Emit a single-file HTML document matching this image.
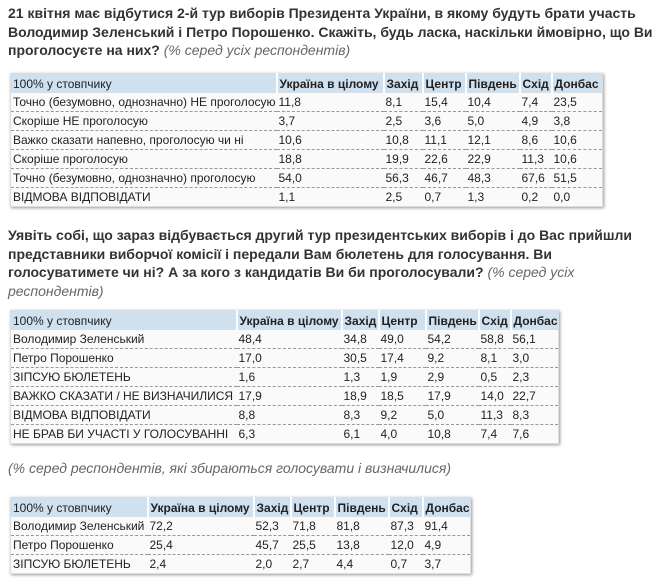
<!DOCTYPE html>
<html><head><meta charset="utf-8"><style>
body{margin:0;width:665px;height:586px;background:#fff;position:relative;font-family:"Liberation Sans",Arial,sans-serif;color:#222;overflow:hidden}
.q{position:absolute;left:8px;font-size:14px;font-weight:bold;color:#333;line-height:18.5px;margin:0}
.q i,.it{font-weight:normal;font-style:italic;color:#666}
.it{position:absolute;left:8px;font-size:14px}
table{position:absolute;left:10px;border-collapse:collapse;table-layout:fixed;font-size:12px;background:#fafafa;box-shadow:1px 1px 3px #999;border:1px solid #ddd}
td{padding:0 0 0 2px;height:18px;white-space:nowrap;overflow:hidden;border-bottom:1px dashed #999;line-height:18px}
tr:last-child td{border-bottom:none}
tr.h td{background:#cfe0ef;height:19px;border-left:2px dotted #fff;border-bottom:none}
tr.h td:first-child{border-left:none}
tr.h td+td{font-weight:bold}
</style></head><body>
<p class="q" style="top:4px">21 квітня має відбутися 2-й тур виборів Президента України, в якому будуть брати участь Володимир Зеленський і Петро Порошенко. Скажіть, будь ласка, наскільки ймовірно, що Ви проголосуєте на них? <i>(% серед усіх респондентів)</i></p>

<table style="top:73px;width:592px">
<colgroup><col style="width:266px"><col style="width:107px"><col style="width:39px"><col style="width:43px"><col style="width:54px"><col style="width:32px"><col style="width:51px"></colgroup>
<tr class="h"><td>100% у стовпчику</td><td>Україна в цілому</td><td>Захід</td><td>Центр</td><td>Південь</td><td>Схід</td><td>Донбас</td></tr>
<tr><td>Точно (безумовно, однозначно) НЕ проголосую</td><td>11,8</td><td>8,1</td><td>15,4</td><td>10,4</td><td>7,4</td><td>23,5</td></tr>
<tr><td>Скоріше НЕ проголосую</td><td>3,7</td><td>2,5</td><td>3,6</td><td>5,0</td><td>4,9</td><td>3,8</td></tr>
<tr><td>Важко сказати напевно, проголосую чи ні</td><td>10,6</td><td>10,8</td><td>11,1</td><td>12,1</td><td>8,6</td><td>10,6</td></tr>
<tr><td>Скоріше проголосую</td><td>18,8</td><td>19,9</td><td>22,6</td><td>22,9</td><td>11,3</td><td>10,6</td></tr>
<tr><td>Точно (безумовно, однозначно) проголосую</td><td>54,0</td><td>56,3</td><td>46,7</td><td>48,3</td><td>67,6</td><td>51,5</td></tr>
<tr><td>ВІДМОВА ВІДПОВІДАТИ</td><td>1,1</td><td>2,5</td><td>0,7</td><td>1,3</td><td>0,2</td><td>0,0</td></tr>
</table>

<p class="q" style="top:226px">Уявіть собі, що зараз відбувається другий тур президентських виборів і до Вас прийшли представники виборчої комісії і передали Вам бюлетень для голосування. Ви голосуватимете чи ні? А за кого з кандидатів Ви би проголосували? <i>(% серед усіх респондентів)</i></p>

<table style="top:310px;width:548px">
<colgroup><col style="width:226px"><col style="width:105px"><col style="width:37px"><col style="width:47px"><col style="width:53px"><col style="width:32px"><col style="width:48px"></colgroup>
<tr class="h"><td>100% у стовпчику</td><td>Україна в цілому</td><td>Захід</td><td>Центр</td><td>Південь</td><td>Схід</td><td>Донбас</td></tr>
<tr><td>Володимир Зеленський</td><td>48,4</td><td>34,8</td><td>49,0</td><td>54,2</td><td>58,8</td><td>56,1</td></tr>
<tr><td>Петро Порошенко</td><td>17,0</td><td>30,5</td><td>17,4</td><td>9,2</td><td>8,1</td><td>3,0</td></tr>
<tr><td>ЗІПСУЮ БЮЛЕТЕНЬ</td><td>1,6</td><td>1,3</td><td>1,9</td><td>2,9</td><td>0,5</td><td>2,3</td></tr>
<tr><td>ВАЖКО СКАЗАТИ / НЕ ВИЗНАЧИЛИСЯ</td><td>17,9</td><td>18,9</td><td>18,5</td><td>17,9</td><td>14,0</td><td>22,7</td></tr>
<tr><td>ВІДМОВА ВІДПОВІДАТИ</td><td>8,8</td><td>8,3</td><td>9,2</td><td>5,0</td><td>11,3</td><td>8,3</td></tr>
<tr><td>НЕ БРАВ БИ УЧАСТІ У ГОЛОСУВАННІ</td><td>6,3</td><td>6,1</td><td>4,0</td><td>10,8</td><td>7,4</td><td>7,6</td></tr>
</table>

<div class="it" style="top:460px">(% серед респондентів, які збираються голосувати і визначилися)</div>

<table style="top:497px;width:460px">
<colgroup><col style="width:137px"><col style="width:106px"><col style="width:37px"><col style="width:44px"><col style="width:54px"><col style="width:34px"><col style="width:48px"></colgroup>
<tr class="h"><td>100% у стовпчику</td><td>Україна в цілому</td><td>Захід</td><td>Центр</td><td>Південь</td><td>Схід</td><td>Донбас</td></tr>
<tr><td>Володимир Зеленський</td><td>72,2</td><td>52,3</td><td>71,8</td><td>81,8</td><td>87,3</td><td>91,4</td></tr>
<tr><td>Петро Порошенко</td><td>25,4</td><td>45,7</td><td>25,5</td><td>13,8</td><td>12,0</td><td>4,9</td></tr>
<tr><td>ЗІПСУЮ БЮЛЕТЕНЬ</td><td>2,4</td><td>2,0</td><td>2,7</td><td>4,4</td><td>0,7</td><td>3,7</td></tr>
</table>
</body></html>
